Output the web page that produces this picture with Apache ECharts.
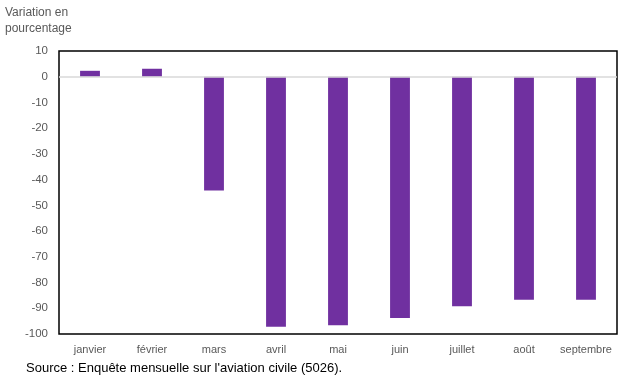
<!DOCTYPE html>
<html>
<head>
<meta charset="utf-8">
<script src="https://cdn.jsdelivr.net/npm/echarts@6/dist/echarts.min.js"></script>
<style>
  html, body { margin: 0; padding: 0; background: #fff; }
  #chart { width: 627px; height: 386px; }
</style>
</head>
<body>
<div id="chart"></div>
<script>
const months = ['janvier', 'février', 'mars', 'avril', 'mai', 'juin', 'juillet', 'août', 'septembre']
const variation = [2.3, 3.1, -44.2, -97.2, -96.6, -93.8, -89.2, -86.7, -86.7]

const chart = echarts.init(document.getElementById('chart'))
const font = 'Liberation Sans, Arial, sans-serif'

chart.setOption({
    animation: false,
    textStyle: { fontFamily: font },
    grid: {
        left: 59,
        right: 10,
        top: 51,
        bottom: 52,
        show: true,
        borderColor: '#000',
        borderWidth: 1.5,
    },
    graphic: [
        {
            type: 'text',
            left: 5,
            top: 5,
            style: {
                text: 'Variation en\npourcentage',
                fill: '#595959',
                font: '12px ' + font,
                lineHeight: 16,
            },
        },
        {
            type: 'text',
            left: 26,
            top: 362,
            style: {
                text: "Source : Enquête mensuelle sur l'aviation civile (5026).",
                fill: '#000',
                font: '13px ' + font,
            },
        },
    ],
    xAxis: {
        type: 'category',
        data: months,
        axisLine: { onZero: false, show: false },
        axisTick: { show: false },
        axisLabel: { color: '#595959', fontSize: 11, margin: 10, interval: 0 },
    },
    yAxis: {
        type: 'value',
        min: -100,
        max: 10,
        interval: 10,
        splitLine: { show: false },
        axisLine: { show: false },
        axisTick: { show: false },
        axisLabel: { color: '#595959', fontSize: 11.5, margin: 11 },
    },
    series: [
        {
            type: 'bar',
            data: variation,
            barWidth: '32%',
            itemStyle: { color: '#7030A0' },
            markLine: {
                silent: true,
                symbol: 'none',
                label: { show: false },
                lineStyle: { color: '#d9d9d9', type: 'solid', width: 1.5 },
                data: [{ yAxis: 0 }],
            },
        },
    ],
})
</script>
</body>
</html>
